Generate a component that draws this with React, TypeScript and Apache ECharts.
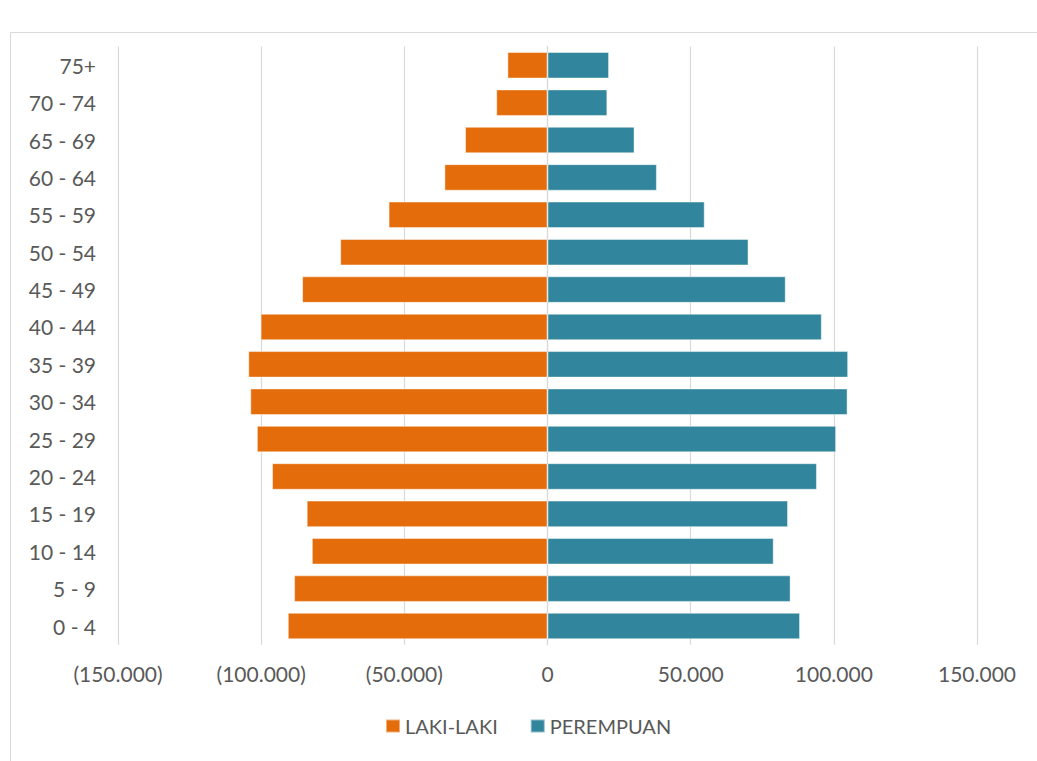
import React, { useEffect, useRef } from "react";
import * as echarts from "echarts";

const ageGroups = [
  "0 - 4", "5 - 9", "10 - 14", "15 - 19", "20 - 24", "25 - 29", "30 - 34", "35 - 39",
  "40 - 44", "45 - 49", "50 - 54", "55 - 59", "60 - 64", "65 - 69", "70 - 74", "75+",
];
const maleValues = [
  90700, 88500, 82300, 84100, 96200, 101500, 103800, 104500,
  100200, 85700, 72400, 55500, 36000, 28800, 17900, 14000,
];
const femaleValues = [
  88200, 84900, 79000, 84000, 94100, 100800, 104800, 105000,
  95800, 83200, 70200, 54900, 38200, 30400, 20900, 21500,
];
const seriesNames = ["LAKI-LAKI", "PEREMPUAN"];
const seriesColors = ["#E46C0A", "#31859C"];

function fmtThousands(v: number): string {
  return String(Math.round(v)).replace(/\B(?=(\d{3})+(?!\d))/g, ".");
}

export default function App() {
  const ref = useRef<HTMLDivElement>(null);
  useEffect(() => {
    if (!ref.current) return;
    const chart = echarts.init(ref.current, undefined, { renderer: "svg" });
    const font = "Lato, 'Noto Sans', sans-serif";
    chart.setOption({
      animation: false,
      backgroundColor: "#ffffff",
      graphic: [
        {
          type: "rect",
          shape: { x: 10.5, y: 32.5, width: 1100, height: 800 },
          style: { fill: "none", stroke: "#d9d9d9", lineWidth: 1 },
          silent: true,
          z: -10,
        },
      ],
      grid: { left: 118, right: 60, top: 46.6, bottom: 116.3, containLabel: false },
      legend: {
        left: 385,
        top: 716,
        padding: 0,
        itemWidth: 14,
        itemHeight: 13,
        itemGap: 32,
        icon: "rect",
        data: seriesNames,
        textStyle: { color: "#595959", fontSize: 20, fontFamily: font },
      },
      xAxis: {
        type: "value",
        min: -150000,
        max: 150000,
        interval: 50000,
        axisLine: { show: false },
        axisTick: { show: false },
        splitLine: { show: true, lineStyle: { color: "#d9d9d9", width: 1.2 } },
        axisLabel: {
          color: "#595959",
          fontSize: 21,
          fontFamily: font,
          margin: 18,
          formatter: (v: number) => (v < 0 ? `(${fmtThousands(-v)})` : fmtThousands(v)),
        },
      },
      yAxis: {
        type: "category",
        data: ageGroups,
        axisLine: { show: true, lineStyle: { color: "#d9d9d9", width: 1.2 } },
        axisTick: { show: false },
        axisLabel: { color: "#595959", fontSize: 21, fontFamily: font, margin: 22 },
        splitLine: { show: false },
      },
      series: [
        {
          name: seriesNames[0],
          type: "bar",
          stack: "total",
          data: maleValues.map((v) => -v),
          barCategoryGap: "29%",
          itemStyle: { color: seriesColors[0], borderColor: "rgba(255,255,255,0.45)", borderWidth: 1 },
        },
        {
          name: seriesNames[1],
          type: "bar",
          stack: "total",
          data: femaleValues,
          barCategoryGap: "29%",
          itemStyle: { color: seriesColors[1], borderColor: "rgba(255,255,255,0.45)", borderWidth: 1 },
        },
      ],
    });
    return () => chart.dispose();
  }, []);
  return (
    <div
      ref={ref}
      style={{ position: "absolute", left: 0, top: 0, width: 1037, height: 761 }}
    />
  );
}
